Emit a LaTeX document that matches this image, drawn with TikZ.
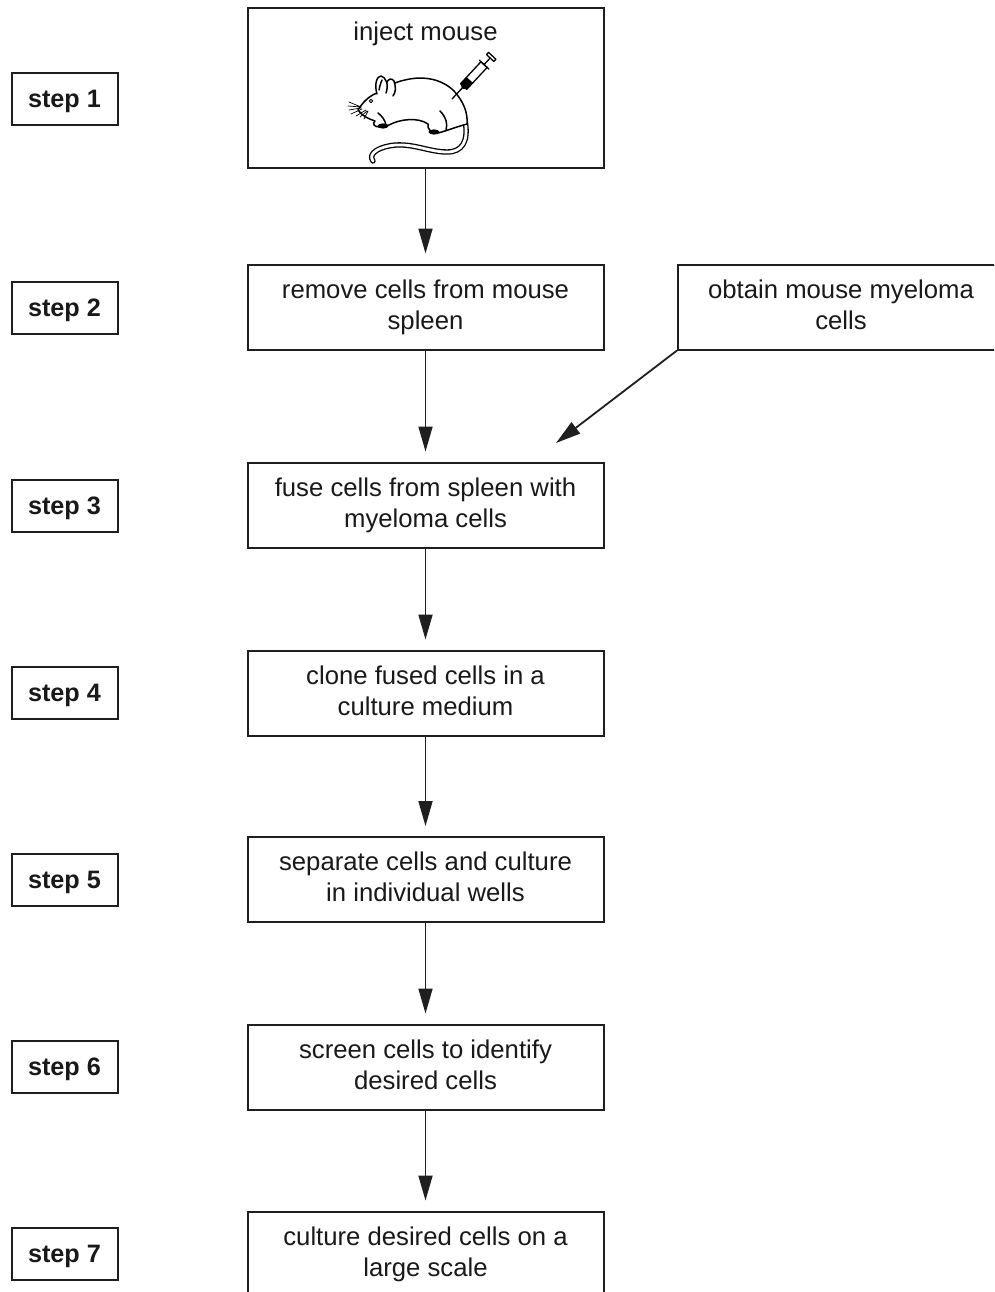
\documentclass[tikz,border=0pt]{standalone}
\usepackage{fontspec}
\setmainfont{Liberation Sans}
\usetikzlibrary{arrows.meta}
% line strut that keeps every two-line label at the same height in its box
\newcommand\lnst{\rule[-9pt]{0pt}{31pt}}
\begin{document}
\begin{tikzpicture}[x=1pt,y=-1pt,
  box/.style={draw=black!88, line width=2pt, minimum width=356pt, minimum height=85pt,
    align=center, font=\fontsize{25.7}{31}\selectfont, text=black!90, inner sep=0pt},
  stepbox/.style={draw=black!88, line width=2pt, minimum width=106pt, minimum height=52pt,
    font=\fontsize{25.2}{30}\selectfont\bfseries, text=black!90, inner sep=0pt,
    text height=20.5pt, text depth=3.5pt},
  flow/.style={-{Triangle[length=25pt,width=14pt]}, line width=1.8pt, draw=black!88},
  ink/.style={line width=1.5pt, line cap=round, line join=round}]
\useasboundingbox (0,0) rectangle (994,1292);
\clip (0,0) rectangle (994,1292);
\fill[white] (0,0) rectangle (994,1292);

% step labels
\node[stepbox] (s1) at (64.5,99.5)  {step 1};
\node[stepbox] (s2) at (64.5,308)   {step 2};
\node[stepbox] (s3) at (64.5,505.5) {step 3};
\node[stepbox] (s4) at (64.5,692.5) {step 4};
\node[stepbox] (s5) at (64.5,880)   {step 5};
\node[stepbox] (s6) at (64.5,1066.5){step 6};
\node[stepbox] (s7) at (64.5,1253.5){step 7};

% process boxes
\node[box, minimum height=160pt] (b1) at (425.5,88.5) {};
\node[font=\fontsize{25.7}{31}\selectfont, text=black!90, inner sep=0pt] (t1) at (425.5,34) {inject mouse};
\node[box] (b2) at (425.5,307)  {\lnst remove cells from mouse\\spleen\lnst};
\node[box] (b3) at (425.5,505)  {\lnst fuse cells from spleen with\\myeloma cells\lnst};
\node[box] (b4) at (425.5,693)  {\lnst clone fused cells in a\\culture medium\lnst};
\node[box] (b5) at (425.5,879.5){\lnst separate cells and culture\\in individual wells\lnst};
\node[box] (b6) at (425.5,1067) {\lnst screen cells to identify\\desired cells\lnst};
\node[box] (b7) at (425.5,1254) {\lnst culture desired cells on a\\large scale\lnst};
\node[box, minimum width=326pt] (r) at (841,307) {\lnst obtain mouse myeloma\\cells\lnst};

% connectors
\draw[flow] (b1.south) -- ([yshift=10pt]b2.north);
\draw[flow] (b2.south) -- ([yshift=10pt]b3.north);
\draw[flow] (b3.south) -- ([yshift=10pt]b4.north);
\draw[flow] (b4.south) -- ([yshift=10pt]b5.north);
\draw[flow] (b5.south) -- ([yshift=10pt]b6.north);
\draw[flow] (b6.south) -- ([yshift=10pt]b7.north);
\coordinate (fuse) at (556,443);
\draw[flow] (r.south west) -- (fuse);

% the mouse
\begin{scope}[ink]
  % tail
  \draw[double=white, double distance=2.8pt, line width=1.3pt]
    (465,120) .. controls (469,142) and (462,152) .. (447,152)
    .. controls (430,152) and (415,144) .. (396,145)
    .. controls (381,146) and (367,153) .. (373,161);
  % head and back
  \draw[fill=white] (358,110) .. controls (363,102) and (369,96) .. (377,93)
    .. controls (385,87) and (395,82) .. (405,80)
    .. controls (425,75) and (443,80) .. (454,91)
    .. controls (463,101) and (468,112) .. (467,124)
    .. controls (456,127) and (446,131) .. (438,133)
    .. controls (431,133) and (427,129) .. (428,124)
    .. controls (418,117) and (400,119) .. (389,125)
    -- (380,127)
    .. controls (374,127) and (372,124) .. (375,121)
    .. controls (369,119) and (362,116) .. (358,110) -- cycle;
  % ears
  \draw[fill=white] (386,84) .. controls (388,78) and (392,78) .. (394,81)
    .. controls (396,87) and (396,92) .. (393,96);
  \draw[fill=white] (377,94) .. controls (374,84) and (377,76) .. (381,76)
    .. controls (386,77) and (389,85) .. (386,93);
  \draw (379,90) .. controls (380,85) and (381,82) .. (382,80);
  % eye
  \draw[line width=0.9pt] (371,101) circle (1.7);
  % whiskers
  \draw[line width=0.7pt] (361,107) -- (349,102) (361,107) -- (348,106)
    (361,108) -- (349,110) (362,109) -- (351,114)
    (367,111) -- (360,117) (368,111) -- (364,119) (366,110) -- (356,116);
  % shoulder and haunch lines
  \draw (378,113) .. controls (382,116) and (385,120) .. (386,125);
  \draw (440,111) .. controls (446,117) and (448,124) .. (446,130);
  % paws
  \fill (383,126) ellipse (5.5 and 2.6);
  \fill (434,132) ellipse (5.5 and 2.6);
\end{scope}

% the syringe
\begin{scope}[shift={(452,99)}, rotate=47, ink, line width=1.3pt]
  \draw (0,0) -- (15,0);
  \draw (15,0) -- (17,-2.5) -- (17,2.5) -- cycle;
  \draw (17,-4.2) rectangle (47,4.2);
  \fill (17,-4.2) rectangle (26,4.2);
  \draw (47,-6.5) -- (47,6.5);
  \draw (47,0) -- (56,0);
  \draw[fill=white] (56,-5) rectangle (59,5);
\end{scope}
\end{tikzpicture}
\end{document}
